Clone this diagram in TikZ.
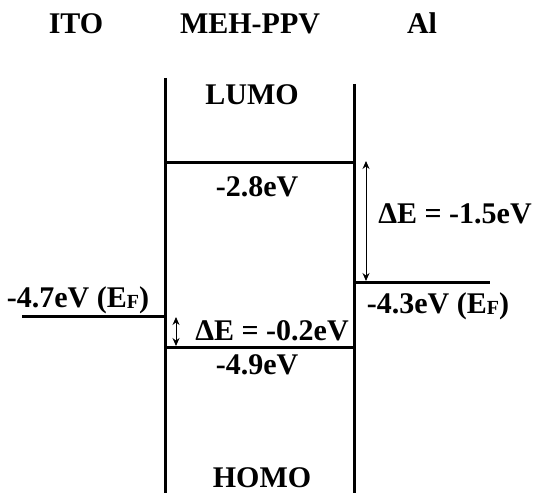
\documentclass[tikz,border=0pt]{standalone}
\usepackage{fontspec}
\setmainfont{Liberation Serif}
\usepackage{tikz}
\usetikzlibrary{arrows.meta}
\newcommand{\fermi}{E\raisebox{-0.5pt}{\fontsize{10}{12}\selectfont F}}
\tikzset{
  lbl/.style={font=\fontsize{15}{18}\selectfont\bfseries, inner sep=0pt, anchor=base},
  wall/.style={line width=1.5pt},
  level/.style={line width=1.5pt},
  gap/.style={{Stealth[length=4pt,width=3.5pt]}-{Stealth[length=4pt,width=3.5pt]}, line width=0.5pt},
}
\begin{document}
\begin{tikzpicture}[x=0.5pt, y=0.5pt]
  \useasboundingbox (0,0) rectangle (534,493);
  % titles
  \node[lbl] (ito) at (76,459) {ITO};
  \node[lbl] (meh) at (250,459) {MEH-PPV};
  \node[lbl] (al) at (422,459) {Al};
  % polymer walls
  \coordinate (wlt) at (165,415);
  \coordinate (wlb) at (165,0);
  \coordinate (wrt) at (354,409);
  \coordinate (wrb) at (354,0);
  \draw[wall] (wlt) -- (wlb);
  \draw[wall] (wrt) -- (wrb);
  % levels
  \coordinate (lumoL) at (165,330);
  \coordinate (lumoR) at (354,330);
  \coordinate (homoL) at (165,146);
  \coordinate (homoR) at (354,146);
  \coordinate (itoL) at (22,177);
  \coordinate (itoR) at (165,177);
  \coordinate (alL) at (354,211);
  \coordinate (alR) at (490,211);
  \draw[level] (lumoL) -- (lumoR);
  \draw[level] (homoL) -- (homoR);
  \draw[level] (itoL) -- (itoR);
  \draw[level] (alL) -- (alR);
  % offsets
  \coordinate (bigT) at (366,332);
  \coordinate (bigB) at (366,212);
  \coordinate (smT) at (176,176);
  \coordinate (smB) at (176,147);
  \draw[gap] (bigT) -- (bigB);
  \draw[gap] (smT) -- (smB);
  % labels
  \node[lbl] (lumo) at (252,388) {LUMO};
  \node[lbl] (e28) at (257,296) {-2.8eV};
  \node[lbl] (de15) at (455,270) {ΔE = -1.5eV};
  \node[lbl] (e47) at (78,186) {-4.7eV (\fermi)};
  \node[lbl] (e43) at (438,180) {-4.3eV (\fermi)};
  \node[lbl] (de02) at (272,153) {ΔE = -0.2eV};
  \node[lbl] (e49) at (257,119) {-4.9eV};
  \node[lbl] (homo) at (262,6) {HOMO};
\end{tikzpicture}
\end{document}
